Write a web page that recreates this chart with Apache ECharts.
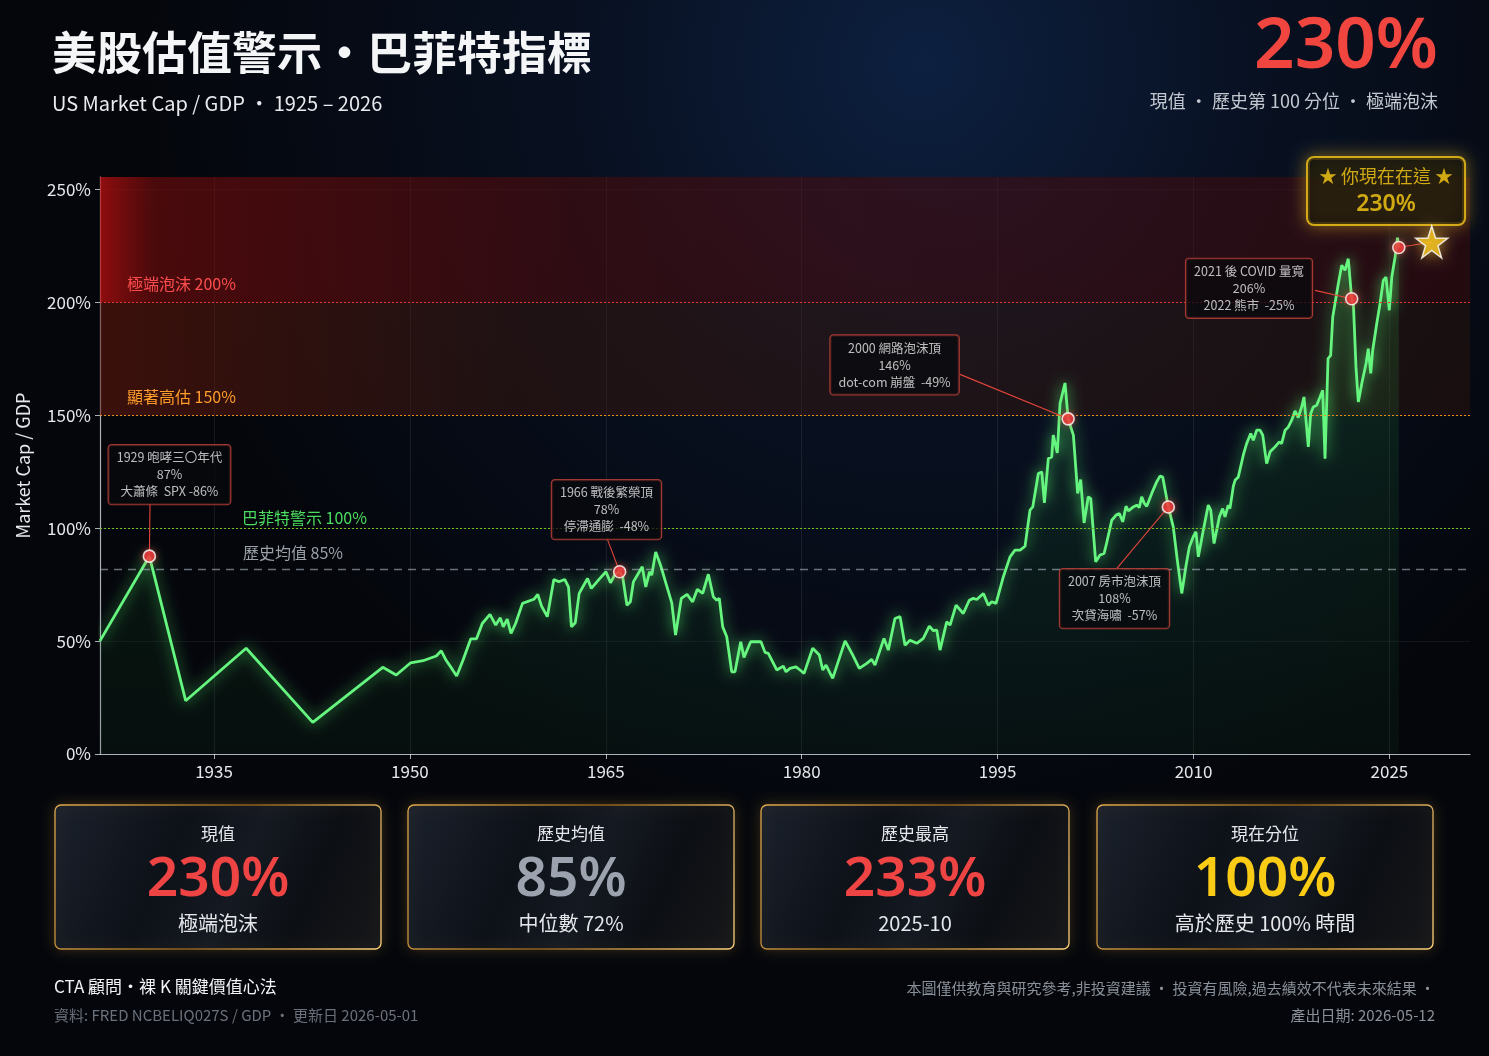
<!DOCTYPE html>
<html><head><meta charset="utf-8">
<script src="https://cdn.jsdelivr.net/npm/echarts@6/dist/echarts.min.js"></script>
<style>html,body{margin:0;padding:0;background:#05080f;}#c{width:1489px;height:1056px;}</style>
</head><body><div id="c"></div>
<script>
// ---------- DATA ----------
const ratioSeries = [
[1926.27,50.1],[1930.05,87.6],[1932.83,23.6],[1937.46,46.8],[1942.56,14.0],[1947.92,38.4],[1948.95,35.0],[1950.06,40.4],
[1951.00,41.3],[1952.02,43.4],[1952.40,45.7],[1952.76,41.6],[1953.20,37.9],[1953.58,34.5],[1954.07,41.6],[1954.66,51.0],
[1955.10,51.0],[1955.54,57.8],[1956.13,61.8],[1956.57,57.1],[1956.92,60.3],[1957.15,56.3],[1957.45,59.7],[1957.74,53.4],
[1958.09,57.8],[1958.62,66.7],[1959.49,68.5],[1959.79,70.7],[1960.08,65.5],[1960.52,60.8],[1961.02,77.3],[1961.40,76.3],
[1961.85,77.3],[1962.14,74.0],[1962.37,56.3],[1962.66,58.1],[1962.96,71.1],[1963.60,77.7],[1963.89,73.3],[1964.48,77.3],
[1965.01,80.7],[1965.36,75.8],[1965.71,79.6],[1966.06,80.7],[1966.29,78.5],[1966.62,65.9],[1966.88,67.4],[1967.11,76.2],
[1967.79,82.9],[1968.06,74.0],[1968.35,80.7],[1968.52,79.2],[1968.82,89.5],[1969.23,82.9],[1970.05,66.9],[1970.34,52.7],
[1970.78,68.9],[1971.22,70.7],[1971.65,67.4],[1972.01,72.9],[1972.42,71.1],[1972.85,79.6],[1973.23,69.6],[1973.49,68.1],
[1973.69,68.9],[1973.95,56.3],[1974.26,51.9],[1974.64,36.4],[1974.89,36.4],[1975.33,49.7],[1975.58,42.8],[1976.09,49.7],
[1976.88,49.7],[1977.19,45.0],[1977.44,44.6],[1978.09,37.2],[1978.59,38.9],[1978.80,36.4],[1979.10,37.9],[1979.56,38.6],
[1979.87,37.2],[1980.18,35.7],[1980.84,46.8],[1981.35,43.8],[1981.61,37.2],[1981.86,39.4],[1982.37,33.5],[1983.32,50.1],
[1983.91,43.8],[1984.41,37.9],[1984.98,40.1],[1985.36,41.9],[1985.61,39.4],[1986.30,51.2],[1986.63,46.0],[1987.14,60.0],
[1987.53,60.8],[1987.91,48.2],[1988.29,50.4],[1988.81,49.0],[1989.31,51.2],[1989.77,56.6],[1990.08,54.6],[1990.34,54.9],
[1990.59,46.0],[1991.10,58.5],[1991.36,57.1],[1991.82,65.9],[1992.37,62.2],[1992.83,68.1],[1993.14,68.9],[1993.40,68.4],
[1993.91,71.1],[1994.29,65.9],[1994.55,67.4],[1994.88,66.7],[1995.44,78.5],[1995.95,87.3],[1996.33,90.3],[1996.72,90.3],
[1997.10,92.0],[1997.48,108.0],[1997.69,109.4],[1998.12,124.2],[1998.38,124.9],[1998.58,111.2],[1998.88,130.8],[1999.14,131.5],
[1999.26,141.2],[1999.57,133.3],[1999.78,155.2],[2000.16,164.3],[2000.40,148.4],[2000.80,141.2],[2001.13,115.4],[2001.36,121.5],
[2001.62,102.3],[2001.94,113.9],[2002.13,113.1],[2002.51,85.1],[2002.84,88.1],[2003.15,88.8],[2003.35,93.5],[2003.74,103.5],
[2004.07,105.8],[2004.32,106.5],[2004.58,102.8],[2004.83,109.7],[2005.01,107.7],[2005.39,109.4],[2005.65,110.2],[2005.85,109.2],
[2006.03,113.9],[2006.21,111.2],[2006.42,109.7],[2006.80,115.4],[2007.18,120.5],[2007.43,123.0],[2007.64,122.7],[2008.07,109.4],
[2008.45,100.6],[2008.76,85.8],[2009.10,71.1],[2009.43,83.6],[2009.68,91.7],[2009.98,96.2],[2010.19,98.4],[2010.37,87.3],
[2010.75,99.1],[2011.13,110.2],[2011.32,108.0],[2011.57,93.2],[2011.98,105.0],[2012.23,108.7],[2012.41,105.0],[2012.66,110.2],
[2012.79,108.7],[2013.05,118.6],[2013.18,121.2],[2013.43,122.7],[2013.81,132.3],[2014.07,137.5],[2014.38,141.9],[2014.58,138.9],
[2014.84,143.4],[2015.09,143.4],[2015.30,141.2],[2015.60,128.6],[2015.86,133.8],[2016.24,136.0],[2016.57,138.2],[2016.75,137.5],
[2017.01,143.4],[2017.26,144.8],[2017.52,147.8],[2017.77,151.9],[2018.02,149.0],[2018.28,153.7],[2018.46,158.1],[2018.61,158.8],
[2018.79,136.0],[2018.97,150.7],[2019.17,153.7],[2019.43,154.4],[2019.69,158.1],[2019.89,161.1],[2020.07,130.8],[2020.30,175.1],
[2020.50,176.5],[2020.66,193.5],[2020.83,199.4],[2021.09,208.3],[2021.35,216.4],[2021.60,214.2],[2021.85,219.3],[2022.11,201.6],
[2022.24,199.4],[2022.44,171.4],[2022.62,155.9],[2022.88,164.0],[2023.21,172.9],[2023.38,179.5],[2023.57,168.5],[2023.72,178.8],
[2024.03,190.6],[2024.28,199.4],[2024.53,209.7],[2024.74,211.2],[2024.99,196.5],[2025.18,211.2],[2025.43,220.0],[2025.62,228.6],
[2025.72,224.3]
];
const xTicks = [1935, 1950, 1965, 1980, 1995, 2010, 2025];
const yTicks = [0, 50, 100, 150, 200, 250];

const refLevels = [200, 150, 100, 82];
const refTexts = ['極端泡沫 200%', '顯著高估 150%', '巴菲特警示 100%', '歷史均值 85%'];

const eventYears  = [1930.05, 1966.06, 2000.40, 2008.07, 2022.11, 2025.72];
const eventValues = [87.6, 80.7, 148.4, 109.4, 201.6, 224.3];
const eventTexts = [
  '1929 咆哮三〇年代\n87%\n大蕭條  SPX -86%',
  '1966 戰後繁榮頂\n78%\n停滯通膨  -48%',
  '2000 網路泡沫頂\n146%\ndot-com 崩盤  -49%',
  '2007 房市泡沫頂\n108%\n次貸海嘯  -57%',
  '2021 後 COVID 量寬\n206%\n2022 熊市  -25%'
];
const currentTitle = '★ 你現在在這 ★';
const currentValue = '230%';

const cardLabels = ['現值', '歷史均值', '歷史最高', '現在分位'];
const cardValues = ['230%', '85%', '233%', '100%'];
const cardSubs   = ['極端泡沫', '中位數 72%', '2025-10', '高於歷史 100% 時間'];

// ---------- LAYOUT (callout anchors in data space) ----------
const calloutBox  = [[1931.59,123.7],[1965.05,108.2],[1987.11,172.3],[2003.95,68.8],[2014.25,206.2],[2024.74,249.3]];
const calloutLink = [[1930.10,111.1],[1965.09,95.6],[1992.12,168.1],[2004.13,82.2],[2019.30,205.3],[2028.24,226.7]];

const CJK = '"Noto Sans CJK TC", "Noto Sans", sans-serif';
const chart = echarts.init(document.getElementById('c'), null, {renderer: 'canvas'});

const refColors = ['#e3342f', '#e8891a', '#6fbf1e', 'rgba(190,198,210,0.55)'];
const refLabelColors = ['#ff4d4d', '#ff9c2a', '#4ade60', '#9aa0a8'];
const refTypes = [[2,2],[2,2],[2,2],[8,6]];
const refPad = [17, 17, 140, 135];
const refDist = [10, 10, 2, 8];

const markLineData = refLevels.map((v, i) => ({
  yAxis: v,
  lineStyle: {color: refColors[i], type: refTypes[i], width: i === 3 ? 1.3 : 1.1},
  label: {show: true, formatter: refTexts[i], position: 'insideStartTop', color: refLabelColors[i],
          fontSize: 16, fontFamily: CJK, padding: [0, 0, 0, refPad[i]], distance: refDist[i]}
}));

const linkData = eventYears.map((y, i) => [
  {coord: [y, eventValues[i]]},
  {coord: calloutLink[i]}
]);

const boxData = eventTexts.map((t, i) => ({value: calloutBox[i], name: t}));

function card(x, w, i, color) {
  return {type: 'group', x: x, y: 805, children: [
    {type: 'rect', shape: {x: 0, y: 0, width: w, height: 144, r: 6},
     style: {fill: {type: 'linear', x: 0, y: 0, x2: 1, y2: 1, colorStops: [
        {offset: 0, color: '#1b212c'}, {offset: 0.35, color: '#0d1118'}, {offset: 0.55, color: '#151a22'},
        {offset: 0.75, color: '#0c0f14'}, {offset: 1, color: '#17171a'}]},
       stroke: {type: 'linear', x: 0, y: 0, x2: 1, y2: 1, colorStops: [
        {offset: 0, color: '#e0a84a'}, {offset: 0.5, color: '#8a5d1c'}, {offset: 1, color: '#ffd27a'}]},
       lineWidth: 1.3, shadowBlur: 14, shadowColor: 'rgba(230,170,60,0.22)'}},
    {type: 'text', x: w / 2, y: 29, style: {text: cardLabels[i], fill: '#e5e7eb', font: '17px ' + CJK, align: 'center', verticalAlign: 'middle'}},
    {type: 'text', x: w / 2, y: 75, style: {text: cardValues[i], fill: color, font: '600 55px "Noto Sans", sans-serif', align: 'center', verticalAlign: 'middle'}},
    {type: 'text', x: w / 2, y: 118, style: {text: cardSubs[i], fill: '#e5e7eb', font: '20px ' + CJK, align: 'center', verticalAlign: 'middle'}}
  ]};
}

const option = {
  backgroundColor: {type: 'radial', x: 0.62, y: 0.06, r: 0.75, colorStops: [
    {offset: 0, color: '#0d2040'}, {offset: 0.45, color: '#081020'}, {offset: 1, color: '#04060b'}]},
  animation: false,
  grid: {left: 100, right: 19, top: 177, bottom: 302},
  xAxis: {
    type: 'value', min: 1926.27, max: 2031.17,
    axisLine: {lineStyle: {color: 'rgba(225,230,240,0.75)', width: 1.2}},
    axisTick: {show: true, customValues: xTicks, length: 5, lineStyle: {color: 'rgba(225,230,240,0.75)'}},
    axisLabel: {customValues: xTicks, formatter: v => String(Math.round(v)), color: '#e5e7eb', fontSize: 17, margin: 9, fontFamily: CJK},
    splitLine: {show: true, lineStyle: {color: 'rgba(255,255,255,0.08)'}}
  },
  yAxis: {
    type: 'value', min: 0, max: 255.5,
    name: 'Market Cap / GDP', nameLocation: 'middle', nameGap: 68,
    nameTextStyle: {color: '#e5e7eb', fontSize: 18, fontFamily: CJK},
    axisLine: {show: true, lineStyle: {color: 'rgba(225,230,240,0.75)', width: 1.2}},
    axisTick: {show: true, customValues: yTicks, length: 5, lineStyle: {color: 'rgba(225,230,240,0.75)'}},
    axisLabel: {customValues: yTicks, formatter: '{value}%', color: '#e5e7eb', fontSize: 17, margin: 9, fontFamily: CJK},
    splitLine: {show: true, lineStyle: {color: 'rgba(255,255,255,0.06)'}}
  },
  series: [
    { // background bands
      type: 'line', data: [], z: 1, silent: true,
      markArea: {silent: true, data: [
        [{yAxis: 200, itemStyle: {color: {type: 'linear', x: 0, y: 0, x2: 1, y2: 0, colorStops: [
          {offset: 0, color: 'rgba(190,15,15,0.75)'}, {offset: 0.04, color: 'rgba(120,12,12,0.6)'},
          {offset: 0.35, color: 'rgba(78,10,10,0.55)'}, {offset: 1, color: 'rgba(65,10,10,0.5)'}]}}}, {yAxis: 255.5}],
        [{yAxis: 150, itemStyle: {color: {type: 'linear', x: 0, y: 0, x2: 1, y2: 0, colorStops: [
          {offset: 0, color: 'rgba(105,25,12,0.55)'}, {offset: 0.3, color: 'rgba(62,24,12,0.45)'},
          {offset: 1, color: 'rgba(52,22,10,0.4)'}]}}}, {yAxis: 200}]
      ]},
      markLine: {silent: true, symbol: 'none', data: markLineData}
    },
    { // main line
      type: 'line', name: 'Market Cap / GDP', data: ratioSeries, z: 4,
      showSymbol: false, smooth: false,
      lineStyle: {color: '#66f57f', width: 2.8, shadowBlur: 14, shadowColor: 'rgba(90,255,120,0.8)'},
      areaStyle: {color: {type: 'linear', x: 0, y: 0, x2: 0, y2: 1, colorStops: [
        {offset: 0, color: 'rgba(50,170,70,0.32)'}, {offset: 0.5, color: 'rgba(30,120,50,0.22)'},
        {offset: 1, color: 'rgba(20,80,35,0.18)'}]}}
    },
    { // connectors
      type: 'line', data: [], z: 5, silent: true,
      markLine: {silent: true, symbol: 'none', z: 5, label: {show: false},
        lineStyle: {color: '#e0443a', type: 'solid', width: 1.1}, data: linkData}
    },
    { // callout boxes
      type: 'scatter', z: 7, symbolSize: 1, silent: true,
      itemStyle: {color: 'rgba(0,0,0,0)'},
      data: boxData,
      label: {show: true, position: 'inside', formatter: p => p.name, color: '#e8e8e8', fontSize: 12.5,
        fontFamily: CJK, lineHeight: 17, align: 'center', backgroundColor: 'rgba(8,10,14,0.93)',
        borderColor: '#c8443a', borderWidth: 1.2, borderRadius: 3, padding: [4, 8]}
    },
    { // current callout (gold)
      type: 'scatter', z: 8, symbolSize: 1, silent: true,
      itemStyle: {color: 'rgba(0,0,0,0)'},
      data: [{value: calloutBox[5]}],
      label: {show: true, position: 'inside',
        formatter: '{a|' + currentTitle + '}\n{b|' + currentValue + '}',
        rich: {a: {color: '#facc15', fontSize: 18, fontFamily: CJK, lineHeight: 26, align: 'center'},
               b: {color: '#facc15', fontSize: 23, fontWeight: 600, fontFamily: '"Noto Sans", sans-serif', lineHeight: 30, align: 'center'}},
        backgroundColor: 'rgba(8,8,8,0.9)', borderColor: '#f5c518', borderWidth: 2, borderRadius: 6,
        padding: [5, 11], shadowBlur: 16, shadowColor: 'rgba(250,200,40,0.55)'}
    },
    { // star
      type: 'scatter', z: 9, silent: true,
      symbol: 'path://M50,0 L61.8,35.4 L99,35.4 L69,57.3 L80.4,92.7 L50,70.8 L19.6,92.7 L31,57.3 L1,35.4 L38.2,35.4 Z',
      symbolSize: 32,
      itemStyle: {color: '#f7c51c', borderColor: '#ffffff', borderWidth: 1.5, shadowBlur: 14, shadowColor: 'rgba(255,210,60,0.7)'},
      data: [calloutLink[5]]
    },
    { // event markers
      type: 'scatter', z: 10, silent: true, symbol: 'circle', symbolSize: 12,
      itemStyle: {color: '#ef3b3b', borderColor: '#ffffff', borderWidth: 1.6, shadowBlur: 6, shadowColor: 'rgba(255,60,60,0.6)'},
      data: eventYears.map((y, i) => [y, eventValues[i]])
    }
  ],
  graphic: [
    {type: 'text', x: 52, y: 53, style: {text: '美股估值警示・巴菲特指標', fill: '#f4f5f7', font: 'bold 45px ' + CJK, verticalAlign: 'middle'}},
    {type: 'text', x: 52, y: 103, style: {text: 'US Market Cap / GDP ・ 1925 – 2026', fill: '#e8eaee', font: '20px ' + CJK, verticalAlign: 'middle'}},
    {type: 'text', x: 1438, y: 48, style: {text: '230%', fill: '#f0463f', font: '600 71px "Noto Sans", sans-serif', align: 'right', verticalAlign: 'middle'}},
    {type: 'text', x: 1438, y: 101, style: {text: '現值 · 歷史第 100 分位 · 極端泡沫', fill: '#c3c8d0', font: '18px ' + CJK, align: 'right', verticalAlign: 'middle'}},
    card(55, 326, 0, '#ef4444'),
    card(408, 326, 1, '#9ca3af'),
    card(761, 308, 2, '#ef4444'),
    card(1097, 336, 3, '#facc15'),
    {type: 'text', x: 54, y: 987, style: {text: 'CTA 顧問・裸 K 關鍵價值心法', fill: '#f2f3f5', font: '17px ' + CJK, verticalAlign: 'middle'}},
    {type: 'text', x: 54, y: 1015, style: {text: '資料: FRED NCBELIQ027S / GDP · 更新日 2026-05-01', fill: '#6b717c', font: '15px ' + CJK, verticalAlign: 'middle'}},
    {type: 'text', x: 1435, y: 988, style: {text: '本圖僅供教育與研究參考,非投資建議 · 投資有風險,過去績效不代表未來結果 ·', fill: '#8a9099', font: '15px ' + CJK, align: 'right', verticalAlign: 'middle'}},
    {type: 'text', x: 1435, y: 1015, style: {text: '產出日期: 2026-05-12', fill: '#8a9099', font: '15px ' + CJK, align: 'right', verticalAlign: 'middle'}}
  ]
};
chart.setOption(option);
</script>
</body></html>
